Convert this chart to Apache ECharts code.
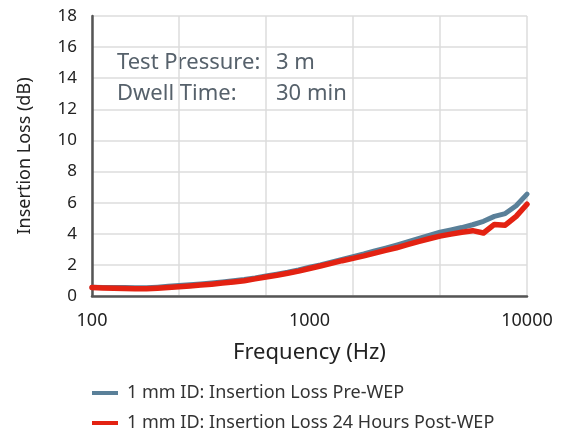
<!DOCTYPE html>
<html>
<head>
<meta charset="utf-8">
<script src="https://cdn.jsdelivr.net/npm/echarts@6/dist/echarts.min.js"></script>
<style>
  html, body { margin: 0; padding: 0; background: #fff; }
  #chart { width: 561px; height: 436px; }
</style>
</head>
<body>
<div id="chart"></div>
<script>
// frequencies (Hz), 1/20 decade steps
var freqs = [100, 112, 126, 141, 158, 178, 200, 224, 251, 282, 316, 355, 398, 447, 501, 562, 631, 708, 794, 891,
  1000, 1122, 1259, 1413, 1585, 1778, 1995, 2239, 2512, 2818, 3162, 3548, 3981, 4467, 5012, 5623, 6310, 7079, 7943, 8913, 10000];
var preWep = [0.56, 0.55, 0.55, 0.54, 0.53, 0.53, 0.57, 0.62, 0.67, 0.72, 0.77, 0.83, 0.9, 0.98, 1.06, 1.16, 1.28, 1.4, 1.53, 1.68,
  1.85, 2.0, 2.17, 2.35, 2.52, 2.7, 2.9, 3.08, 3.27, 3.47, 3.68, 3.9, 4.1, 4.25, 4.4, 4.58, 4.8, 5.12, 5.3, 5.8, 6.55];
var postWep = [0.54, 0.52, 0.5, 0.48, 0.47, 0.46, 0.5, 0.55, 0.6, 0.65, 0.7, 0.76, 0.83, 0.9, 0.98, 1.1, 1.22, 1.33, 1.46, 1.6,
  1.77, 1.93, 2.1, 2.27, 2.42, 2.58, 2.76, 2.93, 3.1, 3.3, 3.5, 3.68, 3.85, 3.98, 4.1, 4.2, 4.05, 4.6, 4.55, 5.12, 5.9];
var seriesNames = ['1 mm ID: Insertion Loss Pre-WEP', '1 mm ID: Insertion Loss 24 Hours Post-WEP'];
var notes = [['Test Pressure:', '3 m'], ['Dwell Time:', '30 min']];
var font = 'Noto Sans';

function pairs(ys) {
  return freqs.map(function (f, i) { return [f, ys[i]]; });
}

var myChart = echarts.init(document.getElementById('chart'));

var graphics = [];
notes.forEach(function (n, i) {
  var y = 63 + i * 31;
  graphics.push({ type: 'text', x: 117, y: y, style: { text: n[0], font: '22px "Noto Sans"', fill: '#56616b', verticalAlign: 'middle' } });
  graphics.push({ type: 'text', x: 276, y: y, style: { text: n[1], font: '22px "Noto Sans"', fill: '#56616b', verticalAlign: 'middle' } });
});

var option = {
  animation: false,
  textStyle: { fontFamily: font },
  grid: { left: 92, right: 34, top: 16, bottom: 140 },
  legend: {
    orient: 'vertical',
    left: 92,
    top: 384,
    padding: 0,
    icon: 'rect',
    itemWidth: 26,
    itemHeight: 4,
    itemGap: 12,
    textStyle: { fontFamily: font, fontSize: 18, color: '#333', padding: [0, 0, 0, 4] },
    data: seriesNames
  },
  xAxis: [{
    type: 'log',
    logBase: 10,
    min: 100,
    max: 10000,
    name: 'Frequency (Hz)',
    nameLocation: 'middle',
    nameGap: 46,
    nameTextStyle: { fontFamily: font, fontSize: 22, color: '#222' },
    axisLine: { lineStyle: { color: '#555', width: 2.5 } },
    axisTick: { show: false },
    axisLabel: { fontFamily: font, fontSize: 18, color: '#222', margin: 16, formatter: function (v) { return String(v); } },
    splitLine: { show: false }
  }, {
    // grid-only axis: vertical lines at fifths of the width
    type: 'value',
    position: 'top',
    min: 0,
    max: 5,
    interval: 1,
    axisLine: { show: false },
    axisTick: { show: false },
    axisLabel: { show: false },
    splitLine: { show: true, lineStyle: { color: '#dddddd', width: 1.5 } }
  }],
  yAxis: {
    type: 'value',
    min: 0,
    max: 18,
    interval: 2,
    name: 'Insertion Loss (dB)',
    nameLocation: 'middle',
    nameGap: 58,
    nameTextStyle: { fontFamily: font, fontSize: 18, color: '#222' },
    axisLine: { show: true, lineStyle: { color: '#555', width: 2.5 } },
    axisTick: { show: false },
    axisLabel: { fontFamily: font, fontSize: 17, color: '#222', margin: 15 },
    splitLine: { show: true, lineStyle: { color: '#dddddd', width: 1.5 } }
  },
  graphic: graphics,
  series: [{
    name: seriesNames[0],
    type: 'line',
    xAxisIndex: 0,
    showSymbol: false,
    color: '#5a8099',
    lineStyle: { width: 5, cap: 'round', join: 'round' },
    data: pairs(preWep)
  }, {
    name: seriesNames[1],
    type: 'line',
    xAxisIndex: 0,
    showSymbol: false,
    color: '#e32212',
    lineStyle: { width: 5.5, cap: 'round', join: 'round' },
    data: pairs(postWep)
  }]
};
myChart.setOption(option);
</script>
</body>
</html>
